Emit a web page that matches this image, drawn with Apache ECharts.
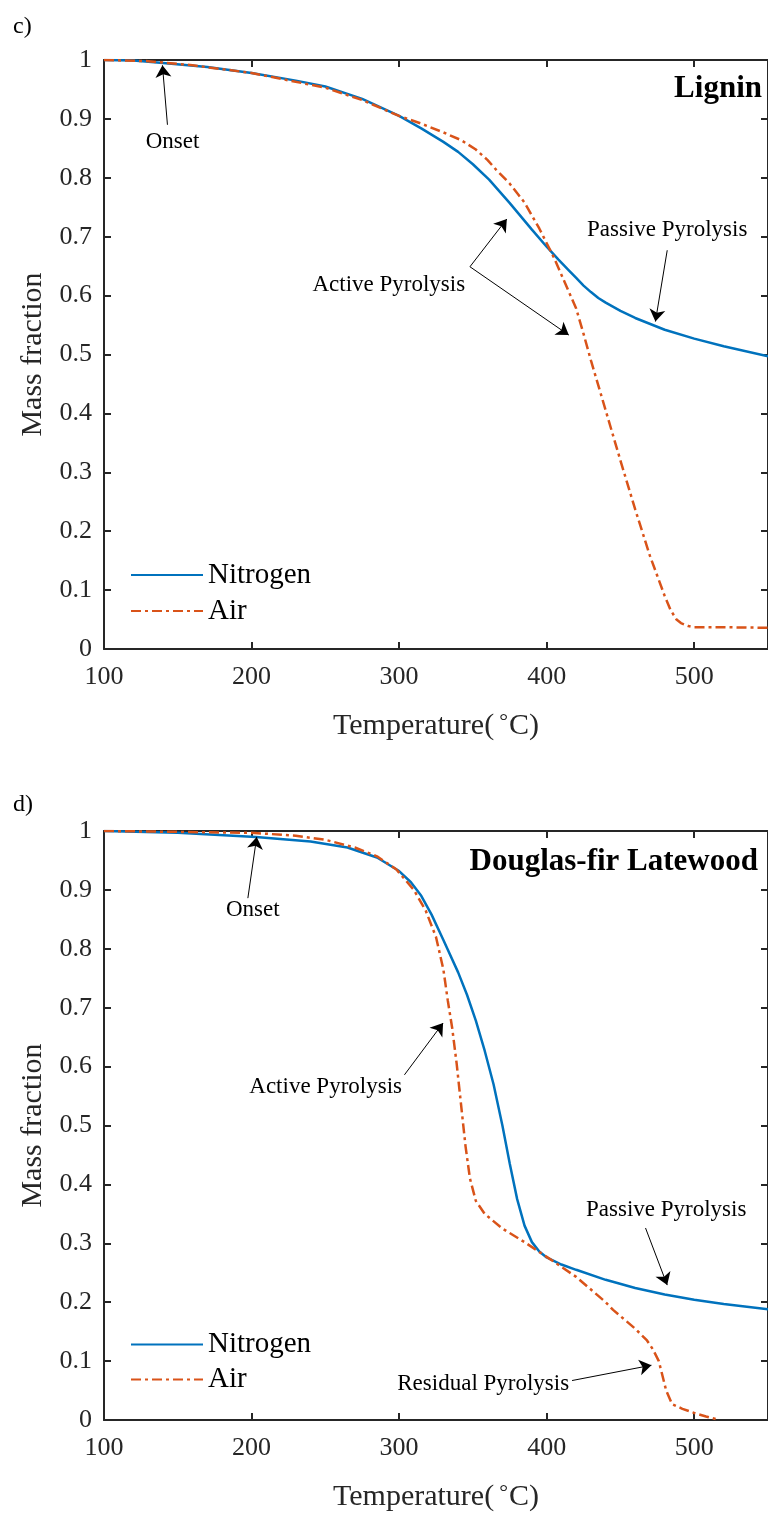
<!DOCTYPE html>
<html>
<head>
<meta charset="utf-8">
<script src="https://cdn.jsdelivr.net/npm/echarts@6/dist/echarts.min.js"></script>
<style>
  html, body { margin: 0; padding: 0; background: #fff; overflow: hidden; }
  #chart { width: 768px; height: 1517px; }
</style>
</head>
<body>
<div id="chart"></div>
<script>
// Thermogravimetric curves: mass fraction vs temperature (°C)
const xTicks = [100, 200, 300, 400, 500];
const seriesNames = ['Nitrogen', 'Air'];
const panelTitles = ['Lignin', 'Douglas-fir Latewood'];
const panelTags = ['c)', 'd)'];

// Lignin
const ligninNitrogen = [[100,1.000],[120,0.999],[140,0.995],[170,0.988],[200,0.978],[230,0.965],[250,0.955],[275,0.934],[300,0.905],[315,0.884],[330,0.861],[340,0.844],[350,0.823],[361,0.797],[375,0.757],[390,0.712],[400,0.683],[408,0.661],[415,0.643],[420,0.630],[425,0.617],[430,0.606],[435,0.596],[440,0.588],[450,0.574],[460,0.562],[480,0.542],[500,0.527],[520,0.514],[550,0.497]];
const ligninAir = [[100,1.000],[130,0.998],[160,0.991],[200,0.978],[250,0.953],[275,0.932],[300,0.905],[315,0.892],[330,0.877],[342,0.864],[352,0.848],[360,0.830],[366,0.813],[375,0.790],[385,0.758],[395,0.714],[405,0.664],[412,0.624],[420,0.578],[425,0.535],[430,0.490],[440,0.405],[450,0.320],[460,0.237],[470,0.158],[475,0.124],[480,0.090],[484,0.066],[488,0.050],[491,0.044],[496,0.039],[500,0.037],[520,0.037],[550,0.036]];

// Douglas-fir latewood
const firNitrogen = [[100,1.000],[150,0.997],[203,0.990],[240,0.982],[265,0.972],[285,0.955],[300,0.932],[308,0.913],[315,0.890],[322,0.858],[330,0.815],[340,0.760],[346,0.722],[352,0.678],[358,0.627],[364,0.570],[370,0.500],[375,0.435],[380,0.375],[385,0.330],[390,0.302],[395,0.286],[400,0.276],[410,0.264],[420,0.255],[440,0.238],[460,0.224],[480,0.213],[500,0.204],[520,0.197],[550,0.188]];
const firAir = [[100,1.000],[200,0.997],[230,0.992],[250,0.985],[270,0.972],[285,0.957],[298,0.935],[310,0.900],[318,0.865],[325,0.820],[330,0.765],[333,0.712],[336,0.665],[339,0.605],[342,0.535],[345,0.465],[348,0.410],[352,0.372],[358,0.350],[370,0.325],[385,0.302],[400,0.277],[420,0.243],[440,0.200],[445,0.187],[460,0.155],[468,0.135],[472,0.120],[476,0.100],[479,0.070],[481,0.050],[485,0.027],[492,0.019],[500,0.012],[508,0.006],[517,0.000]];

// Annotation text [label, x, y] and arrows [x0, y0, x1, y1] in data units
const ligninNotes = [['Onset',146.4,0.861],['Active Pyrolysis',293,0.618],['Passive Pyrolysis',481.7,0.711]];
const ligninArrows = [[143,0.89,139.6,0.991],[348,0.649,373,0.730],[348,0.649,415,0.533],[481.7,0.677,473.7,0.556]];
const firNotes = [['Onset',200.8,0.866],['Active Pyrolysis',250.2,0.565],['Passive Pyrolysis',481,0.357],['Residual Pyrolysis',357,0.061]];
const firArrows = [[197.5,0.886,203.5,0.99],[303.6,0.586,329.8,0.674],[467,0.326,481.7,0.229],[417.2,0.067,471,0.093]];

const FONT = "'Liberation Serif', 'Times New Roman', serif";
const AX = '#262626';
const BLUE = '#0072BD';
const ORANGE = '#D95319';
const X_MIN = 100, X_MAX = 550;

const grids = [
  { left: 104, top: 60, width: 669, height: 589 },
  { left: 104, top: 831, width: 669, height: 589 }
];

function xAxisFor(g, pos) {
  const bottom = pos === 'bottom';
  return {
    type: 'value', gridIndex: g, position: pos, min: X_MIN, max: X_MAX, interval: 100,
    axisLine: { show: true, onZero: false, lineStyle: { color: AX, width: 2 } },
    axisTick: { show: true, inside: true, length: 7, lineStyle: { color: AX, width: 2 } },
    axisLabel: { show: bottom, showMaxLabel: false, fontSize: 26, color: AX, margin: 15, fontFamily: FONT,
      formatter: v => (xTicks.indexOf(v) >= 0 ? String(v) : '') },
    splitLine: { show: false },
    name: bottom ? 'Temperature({d|°}C)' : '',
    nameLocation: 'middle', nameGap: 62,
    nameTextStyle: { fontSize: 30, color: AX, fontFamily: FONT,
      rich: { d: { fontSize: 22, color: AX, fontFamily: FONT, verticalAlign: 'top', padding: [0, 1, 0, 5] } } }
  };
}
function yAxisFor(g, pos) {
  const left = pos === 'left';
  return {
    type: 'value', gridIndex: g, position: pos, min: 0, max: 1, interval: 0.1,
    axisLine: { show: true, onZero: false, lineStyle: { color: AX, width: 2 } },
    axisTick: { show: true, inside: true, length: 7, lineStyle: { color: AX, width: 2 } },
    axisLabel: { show: left, fontSize: 26, color: AX, margin: 12, fontFamily: FONT },
    splitLine: { show: false },
    name: left ? 'Mass fraction' : '',
    nameLocation: 'middle', nameGap: 50, nameRotate: 90,
    nameTextStyle: { fontSize: 30, color: AX, fontFamily: FONT }
  };
}

function notesMarks(notes, arrows) {
  return {
    markLine: {
      silent: true, animation: false,
      symbol: ['none', 'arrow'], symbolSize: 12,
      label: { show: false },
      lineStyle: { color: '#000', width: 1, type: 'solid' },
      itemStyle: { color: '#000' },
      emphasis: { disabled: true },
      data: arrows.map(a => [{ coord: [a[0], a[1]] }, { coord: [a[2], a[3]] }])
    },
    markPoint: {
      silent: true, animation: false, symbol: 'circle', symbolSize: 0,
      label: { show: true, position: 'inside', formatter: '{b}', fontSize: 23, color: '#000', fontFamily: FONT },
      data: notes.map(n => ({ name: n[0], coord: [n[1], n[2]] }))
    }
  };
}

function lineSeries(name, data, g, color, dashed, marks) {
  return Object.assign({
    type: 'line', name: name, data: data, xAxisIndex: g * 2, yAxisIndex: g * 2,
    symbol: 'none', showSymbol: false, smooth: false,
    clip: true, z: dashed ? 4 : 3,
    itemStyle: { color: color },
    lineStyle: { color: color, width: 2.5, type: dashed ? [10, 4, 3, 4] : 'solid' },
    emphasis: { disabled: true }
  }, marks || {});
}

function legendFor(top, lh) {
  return {
    orient: 'vertical', left: 130, top: top, padding: 0, itemGap: 0,
    itemWidth: 72, itemHeight: 1, data: seriesNames, selectedMode: false,
    itemStyle: { opacity: 0, borderWidth: 0 },
    textStyle: { fontSize: 29, color: '#000', fontFamily: FONT, lineHeight: lh }
  };
}

const option = {
  animation: false,
  textStyle: { fontFamily: FONT },
  grid: grids,
  xAxis: [xAxisFor(0, 'bottom'), xAxisFor(0, 'top'), xAxisFor(1, 'bottom'), xAxisFor(1, 'top')],
  yAxis: [yAxisFor(0, 'left'), yAxisFor(0, 'right'), yAxisFor(1, 'left'), yAxisFor(1, 'right')],
  legend: [legendFor(557, 36), legendFor(1327, 35)],
  series: [
    lineSeries(seriesNames[0], ligninNitrogen, 0, BLUE, false, notesMarks(ligninNotes, ligninArrows)),
    lineSeries(seriesNames[1], ligninAir, 0, ORANGE, true),
    lineSeries(seriesNames[0], firNitrogen, 1, BLUE, false, notesMarks(firNotes, firArrows)),
    lineSeries(seriesNames[1], firAir, 1, ORANGE, true)
  ],
  graphic: [
    { type: 'text', x: 13, y: 27, style: { text: panelTags[0], fontSize: 24, fontFamily: FONT, fill: '#000', align: 'left', verticalAlign: 'middle' } },
    { type: 'text', x: 13, y: 805, style: { text: panelTags[1], fontSize: 24, fontFamily: FONT, fill: '#000', align: 'left', verticalAlign: 'middle' } },
    { type: 'text', x: 762, y: 89, style: { text: panelTitles[0], fontSize: 31, fontWeight: 'bold', fontFamily: FONT, fill: '#000', align: 'right', verticalAlign: 'middle' } },
    { type: 'text', x: 758, y: 862, style: { text: panelTitles[1], fontSize: 31, fontWeight: 'bold', fontFamily: FONT, fill: '#000', align: 'right', verticalAlign: 'middle' } }
  ]
};

const chart = echarts.init(document.getElementById('chart'), null, { renderer: 'canvas' });
chart.setOption(option);
</script>
</body>
</html>
